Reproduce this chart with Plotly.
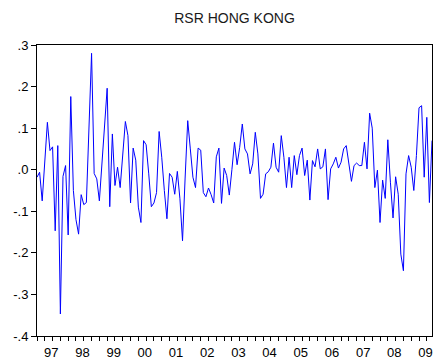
import plotly.graph_objects as go

# Monthly returns, Hong Kong, starting January 1997
start_year = 1997
returns = [
    -0.018, -0.006, -0.075, 0.02, 0.114, 0.046, 0.055, -0.147, 0.058, -0.347,
    -0.016, 0.01, -0.157, 0.176, -0.05, -0.12, -0.155, -0.06, -0.084, -0.079,
    0.10, 0.28, -0.009, -0.022, -0.075, 0.02, 0.118, 0.196, -0.089, 0.086,
    -0.038, 0.006, -0.043, 0.04, 0.116, 0.082, -0.08, 0.052, 0.023, -0.09,
    -0.127, 0.07, 0.06, -0.01, -0.089, -0.08, -0.055, 0.092, 0.03, -0.05,
    -0.118, -0.009, -0.018, -0.059, -0.004, -0.07, -0.171, -0.02, 0.118, 0.05,
    -0.018, -0.043, 0.052, 0.047, -0.055, -0.065, -0.044, -0.06, -0.08, 0.031,
    0.052, -0.081, 0.004, -0.014, -0.061, 0.0, 0.066, 0.012, 0.054, 0.11,
    0.05, 0.038, -0.01, 0.014, 0.09, 0.038, -0.069, -0.059, -0.01, -0.005,
    0.006, 0.064, 0.006, -0.006, 0.082, 0.03, -0.043, 0.03, -0.043, 0.034,
    -0.012, 0.034, 0.052, -0.014, 0.023, -0.073, 0.022, 0.007, 0.05, 0.002,
    0.007, 0.05, -0.072, 0.002, 0.014, 0.03, 0.004, 0.018, 0.05, 0.058,
    0.014, -0.028, 0.01, 0.016, 0.01, 0.01, 0.066, 0.002, 0.136, 0.1,
    -0.043, -0.001, -0.127, -0.025, -0.069, 0.072, -0.03, -0.116, -0.017, -0.059,
    -0.203, -0.243, -0.01, 0.034, 0.006, -0.05, 0.034, 0.149, 0.154, -0.018,
    0.126, -0.079, 0.07,
]

year_labels = ["97", "98", "99", "00", "01", "02", "03", "04", "05", "06", "07", "08", "09"]
y_tick_values = [0.3, 0.2, 0.1, 0.0, -0.1, -0.2, -0.3, -0.4]
y_tick_labels = [".3", ".2", ".1", ".0", "-.1", "-.2", "-.3", "-.4"]

# time in fractional years, one observation per month
t = [start_year + i / 12 for i in range(len(returns))]
label_pos = [start_year + k + 5.5 / 12 for k in range(len(year_labels))]
quarter_ticks = [start_year + q / 4 for q in range(int((t[-1] - start_year) * 4) + 1)]

font_family = "Arial, Liberation Sans, sans-serif"

fig = go.Figure(
    go.Scatter(
        x=t,
        y=returns,
        mode="lines",
        line=dict(color="#0000FF", width=1),
        hoverinfo="skip",
    )
)

fig.update_layout(
    width=433,
    height=360,
    margin=dict(l=37, r=1, t=45, b=24),
    paper_bgcolor="white",
    plot_bgcolor="white",
    showlegend=False,
    title=dict(
        text="RSR HONG KONG",
        x=0.5,
        xref="paper",
        xanchor="center",
        y=1 - 18 / 360,
        yref="container",
        yanchor="middle",
        font=dict(family=font_family, size=14, color="#1a1a1a"),
    ),
    xaxis=dict(
        range=[t[0], t[-1]],
        tickmode="array",
        tickvals=label_pos,
        ticktext=year_labels,
        ticks="outside",
        ticklen=4,
        tickcolor="rgba(0,0,0,0)",
        tickfont=dict(family=font_family, size=13, color="black"),
        showline=True,
        linecolor="black",
        linewidth=1,
        mirror=True,
        showgrid=False,
        zeroline=False,
        minor=dict(
            tickmode="array",
            tickvals=quarter_ticks,
            ticks="outside",
            ticklen=4,
            tickwidth=1,
            tickcolor="black",
            showgrid=False,
        ),
    ),
    yaxis=dict(
        range=[-0.4, 0.3],
        tickmode="array",
        tickvals=y_tick_values,
        ticktext=y_tick_labels,
        ticks="outside",
        ticklen=5,
        tickwidth=1,
        tickcolor="black",
        tickfont=dict(family=font_family, size=13, color="black"),
        showline=True,
        linecolor="black",
        linewidth=1,
        mirror=True,
        showgrid=False,
        zeroline=False,
    ),
)

fig.write_html("out.html")
